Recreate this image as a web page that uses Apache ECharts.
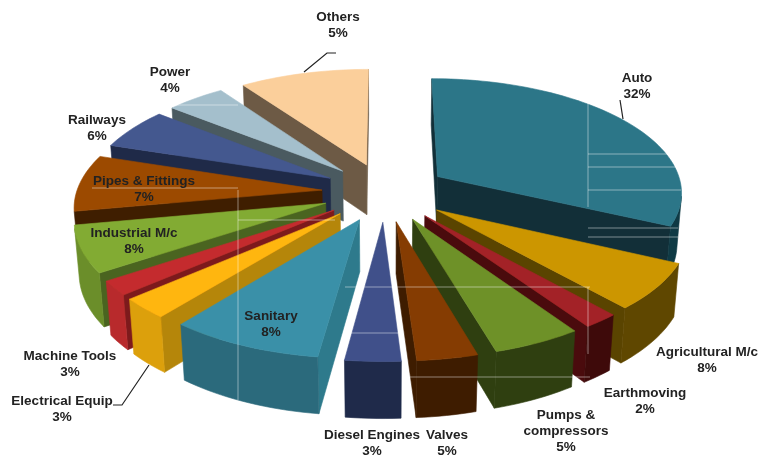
<!DOCTYPE html>
<html><head><meta charset="utf-8">
<style>html,body{margin:0;padding:0;background:#fff}#c{width:759px;height:455px;filter:blur(0.45px)}</style>
<script src="https://cdn.jsdelivr.net/npm/echarts@6/dist/echarts.min.js"></script>
</head><body><div id="c"></div>
<script>
// Segment names and the percentages printed on the chart
const names = ['Auto','Agricultural M/c','Earthmoving','Pumps &\ncompressors','Valves','Diesel Engines','Sanitary','Electrical Equip','Machine Tools','Industrial M/c','Pipes & Fittings','Railways','Power','Others'];
const printedPercent = [32,8,2,5,5,3,8,3,3,8,7,6,4,5];
// Share of the circle as measured from each drawn wedge (the picture's wedges differ from its printed labels)
const sweepShare = [31.8,6.4,2,5,3.4,3.1,8.6,2.8,2,6.43,7.87,5.73,4.42,9.7];

const topColors  = ['#2c7688','#cc9600','#a32227','#6e9128','#853c02','#40508a','#3a90a8','#ffb60f','#c42b2e','#82ab33','#9c4a00','#44588f','#a4bfcc','#fbcf9b'];
const wallColors = ['#122f38','#5a4400','#4a0b0d','#2f3f10','#3e1c00','#1f2a4a','#2e7a8c','#b5860a','#7d1a1c','#4a6420','#3f1e00','#1f2a48','#4a5a60','#6d5a45'];
const rimColors  = ['#0f3a45','#5f4700','#3e0a0a','#2f3f10','#3e1c00','#1f2a4a','#2b6a7c','#dca00c','#b82a2c','#6b8e2a','#7a3b00','#1f2a48','#4a5a60','#6d5a45'];

// Scene settings for the 3D look
const cam = {cx:385, cy:192, k:253, tilt:27.6*Math.PI/180, dist:6.9, radius:0.97, explode:0.25, height:0.23};
const total = sweepShare.reduce((a,b)=>a+b,0);
const starts = []; sweepShare.reduce((a,v,i)=>{starts[i]=a; return a+v;},0);

function project(X,Y,Z){
  const s=Math.sin(cam.tilt), c=Math.cos(cam.tilt);
  const f=cam.dist/(cam.dist-(Y*c+Z*s));
  return [cam.cx+cam.k*X*f, cam.cy+cam.k*f*(Y*s-Z*c)];
}
function area(p){let a=0;for(let i=0;i<p.length;i++){const q=p[(i+1)%p.length];a+=p[i][0]*q[1]-q[0]*p[i][1];}return a;}
function face(points,fill,z2){
  return {type:'polygon',z2,shape:{points},style:{fill,stroke:fill,lineWidth:0.6},silent:true};
}
function renderSlice(params,api){
  const i=params.dataIndex, v=api.value(0);
  const a0=starts[i]/total*2*Math.PI, a1=(starts[i]+v)/total*2*Math.PI, mid=(a0+a1)/2;
  const ox=cam.explode*Math.sin(mid), oy=-cam.explode*Math.cos(mid);
  const rim=(t,z)=>project(ox+cam.radius*Math.sin(t),oy-cam.radius*Math.cos(t),z);
  const T=0,B=-cam.height;
  const order=Math.round((oy/cam.explode+1)*1000);
  const kids=[];
  const steps=Math.max(4,Math.ceil((a1-a0)/0.03));
  const topPts=[project(ox,oy,T)];
  for(let s=0;s<=steps;s++){topPts.push(rim(a0+(a1-a0)*s/steps,T));}
  const wallA=[project(ox,oy,T),rim(a0,T),rim(a0,B),project(ox,oy,B)];
  const wallB=[rim(a1,T),project(ox,oy,T),project(ox,oy,B),rim(a1,B)];
  if(area(wallA)<0)kids.push(face(wallA,wallColors[i],order*4));
  if(area(wallB)<0)kids.push(face(wallB,wallColors[i],order*4));
  // Outer curved wall: one polygon per continuous run of camera-facing steps
  let upper=[],lower=[];
  const flush=()=>{ if(upper.length){kids.push(face(upper.concat(lower.slice().reverse()),rimColors[i],order*4+1));} upper=[];lower=[]; };
  for(let s=0;s<steps;s++){
    const t0=a0+(a1-a0)*s/steps,t1=a0+(a1-a0)*(s+1)/steps;
    const q=[rim(t0,T),rim(t1,T),rim(t1,B),rim(t0,B)];
    if(area(q)<0){
      if(!upper.length){upper.push(q[0]);lower.push(q[3]);}
      upper.push(q[1]);lower.push(q[2]);
    } else flush();
  }
  flush();
  kids.push(face(topPts,topColors[i],order*4+2));
  return {type:'group',children:kids};
}

// Label anchors: centre x, first-line centre y
const labelX = [637,707,645,566,447,372,271,62,70,134,144,97,170,338];
const labelY = [78,352,393,415,435,435,316,401,356,233,181,120,72,17];
const labelGraphics = names.map((n,i)=>({
  type:'text',x:labelX[i],y:labelY[i]-8,z:100,silent:true,
  style:{text:n+'\n'+printedPercent[i]+'%',fill:'#222',align:'center',verticalAlign:'top',
         font:'bold 13.5px "Liberation Sans"',lineHeight:16}
}));
const leaderLines = [
  [[620,100],[623,119]],
  [[304,72],[327,53],[336,53]],
  [[149,365],[122,405],[113,405]]
];
const leaderGraphics = leaderLines.map(points=>({type:'polyline',z:99,silent:true,shape:{points},style:{stroke:'#222',lineWidth:1.2,fill:null}}));
// Pale scan lines that cross the reference picture
const scanLines = [
  [[588,103],[588,207]],[[588,167],[678,167]],[[588,154],[676,154]],[[588,190],[681,190]],
  [[588,228],[678,228]],[[588,237],[678,237]],[[588,287],[588,354]],
  [[238,190],[238,400]],[[238,220],[335,220]],[[92,188],[238,188]],[[175,105],[238,105]],
  [[345,287],[590,287]],[[410,377],[590,377]],[[350,333],[398,333]]
];
const scanGraphics = scanLines.map(points=>({type:'polyline',z:98,silent:true,shape:{points},style:{stroke:'rgba(255,255,255,0.45)',lineWidth:1,fill:null}}));

const chart=echarts.init(document.getElementById('c'),null,{renderer:'canvas'});
chart.setOption({
  animation:false,
  backgroundColor:'#fff',
  series:[{type:'custom',coordinateSystem:'none',silent:true,data:sweepShare,renderItem:renderSlice}],
  graphic:{elements:[...scanGraphics,...leaderGraphics,...labelGraphics]}
});
</script></body></html>
